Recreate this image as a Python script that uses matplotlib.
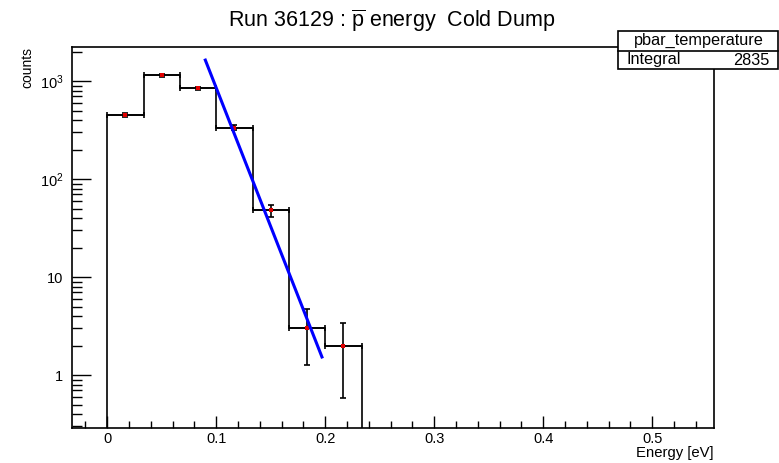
import numpy as np
import matplotlib
matplotlib.use("Agg")
import matplotlib.pyplot as plt
from matplotlib.ticker import FixedLocator, LogLocator, NullFormatter, FuncFormatter
from matplotlib.patches import Rectangle
from matplotlib.lines import Line2D

plt.rcParams['font.family'] = ['Liberation Sans', 'DejaVu Sans']
plt.rcParams['mathtext.fontset'] = 'custom'
plt.rcParams['mathtext.rm'] = 'Liberation Sans'
plt.rcParams['mathtext.it'] = 'Liberation Sans:italic'

# histogram data (bin edges in eV, counts per bin)
bin_edges = [0.0, 1/30, 2/30, 3/30, 4/30, 5/30, 6/30, 7/30]
counts = [450, 1150, 845, 337, 48, 3, 2]

# exponential fit (straight on log axis), endpoints
fit_energy = [0.090, 0.197]
fit_counts = [1645, 1.53]

hist_name = "pbar_temperature"
integral = 2835

edges = np.array(bin_edges)
vals = np.array(counts, dtype=float)
centers = 0.5 * (edges[:-1] + edges[1:])
half_w = 0.5 * (edges[1:] - edges[:-1])
errs = np.sqrt(vals)

fig = plt.figure(figsize=(7.79, 4.63), dpi=100)
ax = fig.add_axes([71.7/779, 1 - 427.7/463, (714 - 71.7)/779, (427.7 - 46.7)/463])
ax.set_yscale('log')

# outline of histogram
ax.stairs(vals, edges, baseline=1e-3, color='black', lw=1.2, zorder=2)
# error bars
ax.errorbar(centers, vals, xerr=half_w, yerr=errs, fmt='none', ecolor='black',
            elinewidth=1.2, capsize=2.5, capthick=1.2, zorder=3)
ax.plot(centers, vals, 's', color='#e00000', ms=2.6, mew=0, zorder=4)
# fit
ax.plot(fit_energy, fit_counts, color='#0000ff', lw=2.2, zorder=5)

ax.set_xlim(-0.0326, 0.5567)
ax.set_ylim(0.29, 2254)

ax.xaxis.set_major_locator(FixedLocator([0, 0.1, 0.2, 0.3, 0.4, 0.5]))
ax.xaxis.set_minor_locator(FixedLocator(np.arange(-0.02, 0.56, 0.02)))
ax.xaxis.set_major_formatter(FuncFormatter(lambda v, p: "0" if abs(v) < 1e-9 else "%g" % v))

ax.yaxis.set_major_locator(FixedLocator([1, 10, 100, 1000]))
ax.yaxis.set_minor_locator(LogLocator(base=10, subs=np.arange(2, 10), numticks=20))
ax.yaxis.set_minor_formatter(NullFormatter())
ylabels = {1: "1", 10: "10", 100: r"$10^{2}\;$", 1000: r"$10^{3}\;$"}
ax.yaxis.set_major_formatter(FuncFormatter(lambda v, p: ylabels.get(int(round(v)), "")))

ax.tick_params(axis='x', which='major', direction='in', length=9, width=1, labelsize=10.5, pad=3)
ax.tick_params(axis='x', which='minor', direction='in', length=5, width=1)
ax.tick_params(axis='y', which='major', direction='in', length=13.7, width=1, labelsize=10.5, pad=6)
ax.tick_params(axis='y', which='minor', direction='in', length=7.2, width=1)
for s in ax.spines.values():
    s.set_linewidth(1.2)

# title and axis labels
fig.text(392/779, 1 - 27/463, r"Run 36129 : $\overline{\mathrm{p}}$ energy  Cold Dump",
         ha='center', va='baseline', fontsize=15.5)
fig.text(27/779, 1 - 47/463, "counts", rotation=90, ha='center', va='top', fontsize=10)
fig.text(714/779, 1 - 453/463, "Energy [eV]", ha='right', va='center', fontsize=10.7)

# stats box
x0, x1 = 618/779, 778/779
y0, y1, ym = 1 - 69.3/463, 1 - 31/463, 1 - 50.7/463
fig.patches.append(Rectangle((x0, y0), x1 - x0, y1 - y0, transform=fig.transFigure,
                             facecolor='white', edgecolor='black', lw=1.2, zorder=10))
fig.lines.append(Line2D([x0, x1], [ym, ym], transform=fig.transFigure, color='black', lw=1.2, zorder=11))
fig.text((x0 + x1) / 2 + 0.5/779, (ym + y1) / 2, hist_name, ha='center', va='center', fontsize=11.7, zorder=12)
fig.text(x0 + 8/779, (y0 + ym) / 2 + 1/463, "Integral", ha='left', va='center', fontsize=11.7, zorder=12)
fig.text(x1 - 9/779, (y0 + ym) / 2, str(integral), ha='right', va='center', fontsize=11.7, zorder=12)

fig.savefig("out.png", dpi=100)
